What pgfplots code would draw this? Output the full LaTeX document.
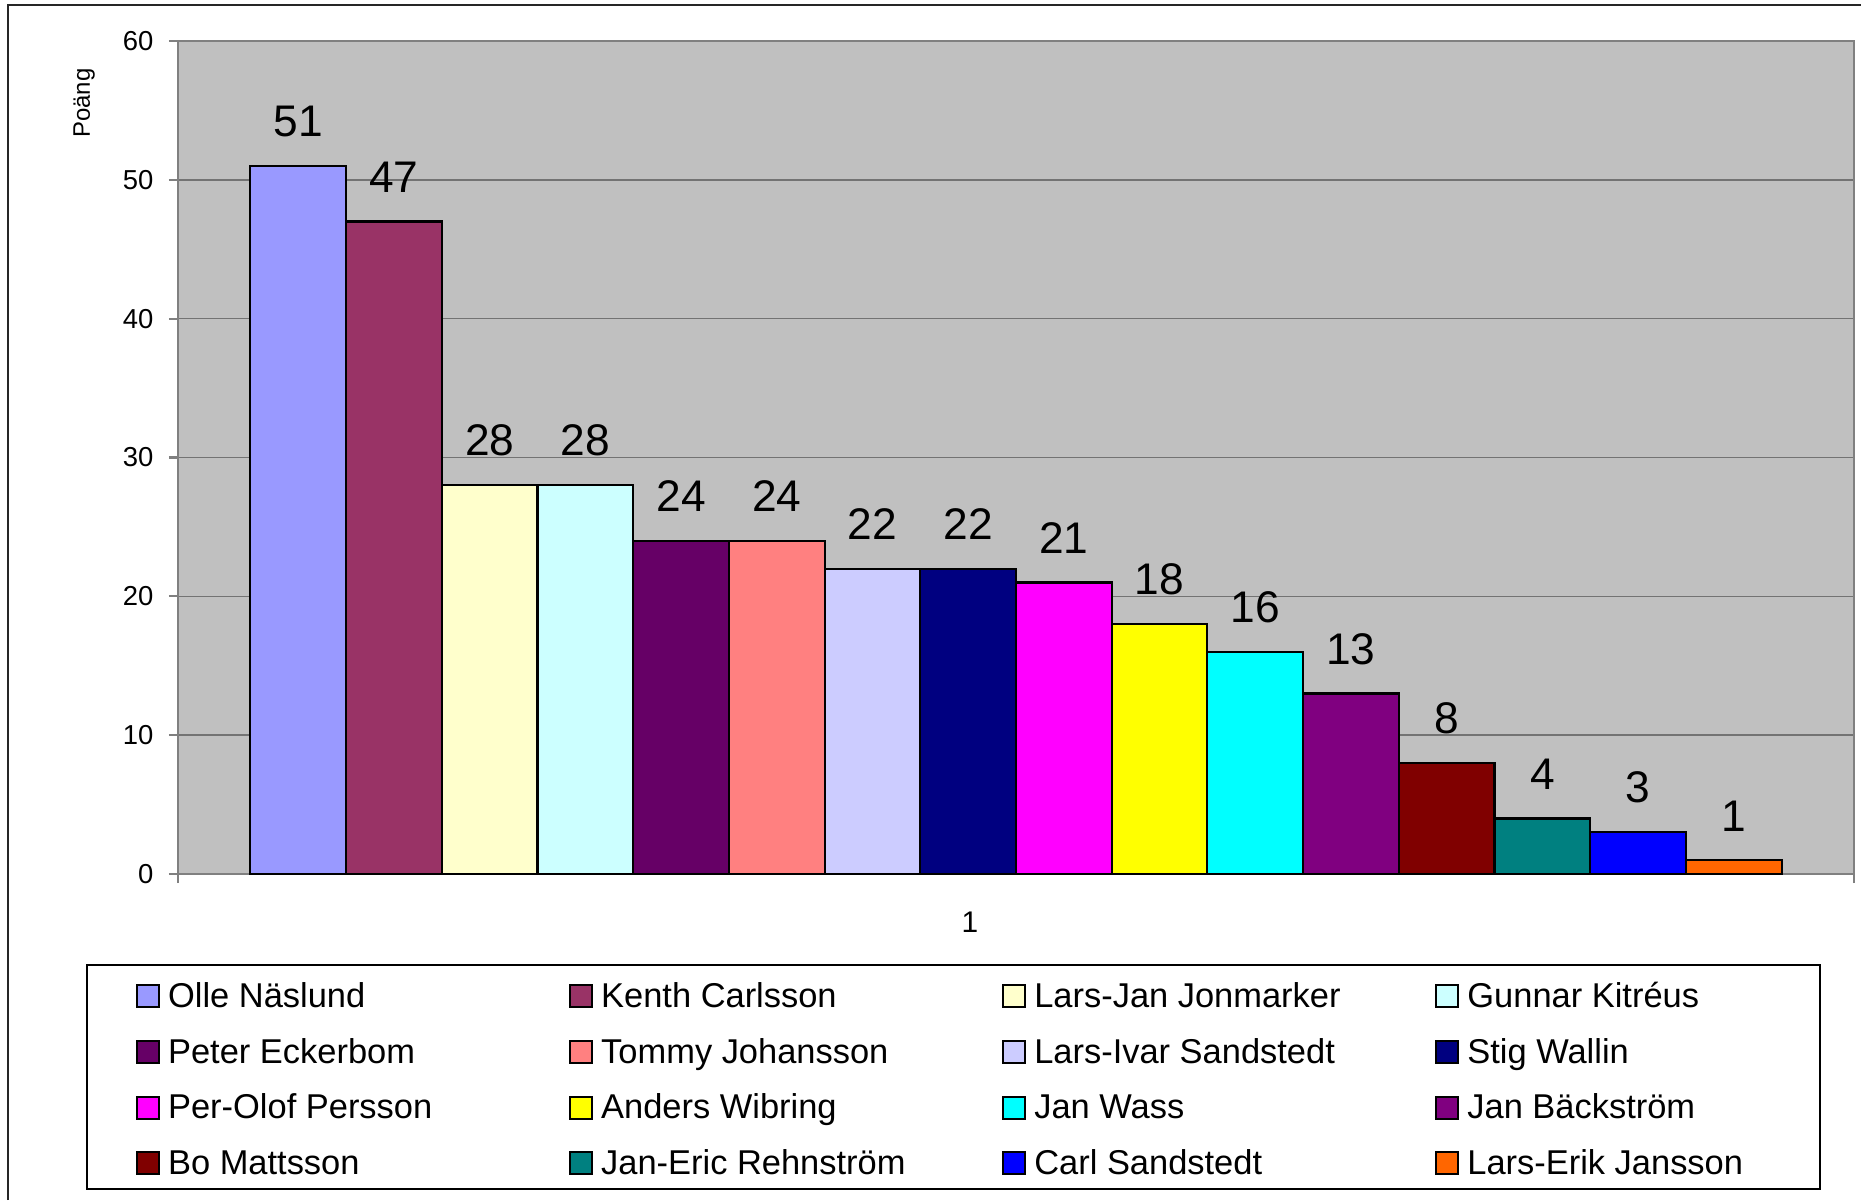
\documentclass[border=0pt]{standalone}
\usepackage{pgfplots}
\pgfplotsset{compat=1.18}
\usepackage{fontspec}
\setmainfont{Liberation Sans}

% Excel 2003 palette
\definecolor{c1}{HTML}{9999FF}
\definecolor{c2}{HTML}{993366}
\definecolor{c3}{HTML}{FFFFCC}
\definecolor{c4}{HTML}{CCFFFF}
\definecolor{c5}{HTML}{660066}
\definecolor{c6}{HTML}{FF8080}
\definecolor{c7}{HTML}{CCCCFF}
\definecolor{c8}{HTML}{000080}
\definecolor{c9}{HTML}{FF00FF}
\definecolor{c10}{HTML}{FFFF00}
\definecolor{c11}{HTML}{00FFFF}
\definecolor{c12}{HTML}{800080}
\definecolor{c13}{HTML}{800000}
\definecolor{c14}{HTML}{008080}
\definecolor{c15}{HTML}{0000FF}
\definecolor{c16}{HTML}{FF6600}
\definecolor{plotbg}{HTML}{C0C0C0}

\newcommand{\lname}[1]{\makebox[4.01cm][l]{\strut #1}}

\begin{document}
\begin{tikzpicture}
\path[use as bounding box] (0,0) rectangle (18.61cm,-12cm);
\draw[black!85, line width=0.6pt] (0.08cm,-12cm) -- (0.08cm,-0.05cm) -- (18.61cm,-0.05cm);

\begin{axis}[
    at={(1.78cm,-8.74cm)}, anchor=south west,
    scale only axis,
    width=16.76cm, height=8.33cm,
    xmin=0, xmax=2,
    ymin=0, ymax=60,
    ybar=0pt,
    bar width=0.957cm,
    axis background/.style={fill=plotbg},
    axis line style={draw=black!50, line width=0.6pt},
    ymajorgrids,
    grid style={draw=black!55, line width=0.45pt},
    ytick={0,10,...,60},
    tick pos=left,
    tick align=outside,
    major tick length=0.09cm,
    tick style={draw=black!50, line width=0.6pt},
    xtick={0,2},
    xticklabels={},
    extra x ticks={1},
    extra x tick labels={1},
    extra x tick style={major tick length=0pt,
        xticklabel style={xshift=-0.46cm}},
    /pgf/number format/assume math mode=true,
    yticklabel style={font=\fontsize{7.8}{9.4}\selectfont, inner sep=0pt, xshift=-0.15cm},
    xticklabel style={font=\fontsize{8.5}{10}\selectfont, inner sep=0pt, yshift=-0.37cm},
    ylabel={Poäng},
    ylabel style={at={(axis description cs:-0.056,0.9256)}, anchor=center,
        font=\fontsize{6.8}{8}\selectfont},
    nodes near coords,
    nodes near coords style={font=\fontsize{12.6}{15}\selectfont, anchor=south,
        inner sep=0pt, yshift=0.28cm, black},
    every axis plot/.append style={draw=black, line width=0.6pt},
    legend image code/.code={\draw[#1, draw=black, line width=0.6pt] (0cm,0cm) rectangle (0.22cm,0.22cm);},
    legend columns=4,
    legend cell align=left,
    legend style={draw=none, fill=none, at={(-0.02506,-0.1254)}, anchor=north west,
        inner sep=0pt, outer sep=0pt, row sep=6.1pt,
        font=\fontsize{9.8}{11.76}\selectfont,
        nodes={inner sep=0pt},
        cells={anchor=base west},
        /tikz/every odd column/.style={column sep=0.08cm},
        /tikz/every even column/.style={column sep=0pt}},
]
\addplot[fill=c1] coordinates {(1,51)}; \addlegendentry{\lname{Olle Näslund}}
\addplot[fill=c2] coordinates {(1,47)}; \addlegendentry{\lname{Kenth Carlsson}}
\addplot[fill=c3] coordinates {(1,28)}; \addlegendentry{\lname{Lars-Jan Jonmarker}}
\addplot[fill=c4] coordinates {(1,28)}; \addlegendentry{\lname{Gunnar Kitréus}}
\addplot[fill=c5] coordinates {(1,24)}; \addlegendentry{\lname{Peter Eckerbom}}
\addplot[fill=c6] coordinates {(1,24)}; \addlegendentry{\lname{Tommy Johansson}}
\addplot[fill=c7] coordinates {(1,22)}; \addlegendentry{\lname{Lars-Ivar Sandstedt}}
\addplot[fill=c8] coordinates {(1,22)}; \addlegendentry{\lname{Stig Wallin}}
\addplot[fill=c9] coordinates {(1,21)}; \addlegendentry{\lname{Per-Olof Persson}}
\addplot[fill=c10] coordinates {(1,18)}; \addlegendentry{\lname{Anders Wibring}}
\addplot[fill=c11] coordinates {(1,16)}; \addlegendentry{\lname{Jan Wass}}
\addplot[fill=c12] coordinates {(1,13)}; \addlegendentry{\lname{Jan Bäckström}}
\addplot[fill=c13] coordinates {(1,8)}; \addlegendentry{\lname{Bo Mattsson}}
\addplot[fill=c14] coordinates {(1,4)}; \addlegendentry{\lname{Jan-Eric Rehnström}}
\addplot[fill=c15] coordinates {(1,3)}; \addlegendentry{\lname{Carl Sandstedt}}
\addplot[fill=c16] coordinates {(1,1)}; \addlegendentry{\lname{Lars-Erik Jansson}}
\end{axis}

% legend frame
\draw[black, line width=0.6pt] (0.87cm,-9.65cm) rectangle (18.20cm,-11.89cm);
\end{tikzpicture}
\end{document}
